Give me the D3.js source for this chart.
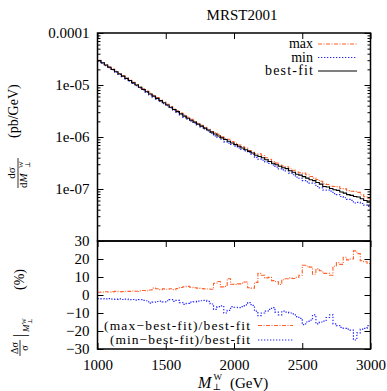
<!DOCTYPE html>
<html><head><meta charset="utf-8">
<script src="https://cdn.jsdelivr.net/npm/d3@7"></script>
<style>
body{margin:0;background:#fff}
text{font-family:"Liberation Serif","DejaVu Serif",serif;fill:#000}
</style>
</head><body>
<svg id="c" width="387" height="391"></svg>
<script>
// ---------- data ----------
const binEdges = d3.range(1000, 3001, 25); // 81 edges, 80 bins of 25 GeV
const bestFit = [
2.94e-5, 2.67e-5, 2.42e-5, 2.19e-5, 1.99e-5, 1.80e-5, 1.63e-5, 1.48e-5, 1.34e-5, 1.22e-5,
1.10e-5, 9.98e-6, 9.06e-6, 8.20e-6, 7.43e-6, 6.73e-6, 6.11e-6, 5.53e-6, 5.01e-6, 4.55e-6,
4.12e-6, 3.73e-6, 3.39e-6, 3.07e-6, 2.78e-6, 2.52e-6, 2.30e-6, 2.10e-6, 1.93e-6, 1.77e-6,
1.62e-6, 1.48e-6, 1.36e-6, 1.24e-6, 1.14e-6, 1.045e-6, 9.64e-7, 8.93e-7, 8.30e-7, 7.69e-7,
7.14e-7, 6.62e-7, 6.15e-7, 5.70e-7, 5.30e-7, 4.91e-7, 4.45e-7, 4.23e-7, 3.98e-7, 3.64e-7,
3.38e-7, 3.13e-7, 2.92e-7, 2.74e-7, 2.56e-7, 2.46e-7, 2.24e-7, 2.10e-7, 1.92e-7, 1.85e-7,
1.73e-7, 1.62e-7, 1.51e-7, 1.45e-7, 1.33e-7, 1.24e-7, 1.12e-7, 1.09e-7, 1.02e-7, 9.66e-8,
9.4e-8, 8.75e-8, 8.32e-8, 7.8e-8, 7.54e-8, 7.18e-8, 7.0e-8, 6.50e-8, 6.0e-8, 5.6e-8];
// (max-best)/best in %
const maxRatio = [
1.5,1.6,1.8,1.7,1.9,2.0,1.8,1.9,2.1,2.0,
2.2,2.1,2.3,2.5,2.4,2.8,3.8,3.5,3.0,3.4,
3.2,3.5,3.0,3.6,4.2,4.6,4.8,4.3,4.0,3.8,
3.6,3.4,3.3,3.2,6.5,7.5,4.5,4.8,9.0,6.0,
5.8,6.2,6.6,7.2,4.0,3.8,7.0,12.0,11.0,9.5,
9.8,8.0,7.5,5.8,8.5,9.0,9.5,9.2,9.8,11.0,
16.5,16.0,15.5,11.5,14.5,13.5,12.0,12.0,11.0,16.0,
18.0,17.0,21.0,19.5,20.0,24.5,23.0,19.0,18.5,17.5];
// (min-best)/best in %
const minRatio = [
-2.0,-2.1,-2.2,-2.0,-2.3,-2.4,-2.2,-2.5,-2.3,-2.6,
-2.5,-2.8,-2.6,-3.0,-3.2,-4.5,-4.0,-3.6,-3.4,-3.8,
-3.2,-2.6,-3.5,-3.0,-4.2,-5.2,-4.6,-4.0,-3.8,-3.4,
-3.2,-3.0,-3.5,-5.0,-8.0,-6.5,-6.0,-10.0,-8.5,-6.5,
-6.8,-7.0,-6.5,-5.5,-4.2,-5.8,-9.0,-11.5,-10.0,-9.0,
-8.0,-7.0,-9.5,-11.0,-9.0,-9.5,-10.0,-10.5,-12.0,-13.0,
-16.5,-15.0,-14.0,-11.0,-16.0,-15.0,-14.5,-12.5,-11.0,-16.0,
-17.0,-18.0,-18.5,-19.0,-19.5,-25.0,-21.0,-19.0,-18.5,-17.0];
const maxVals = bestFit.map((v,i)=>v*(1+maxRatio[i]/100));
const minVals = bestFit.map((v,i)=>v*(1+minRatio[i]/100));
const topTicks = [1e-4,1e-5,1e-6,1e-7];
const topTickLabels = ["0.0001","1e-05","1e-06","1e-07"];
const botTicks = [30,20,10,0,-10,-20,-30];
const xTicks = [1000,1500,2000,2500,3000];

// ---------- layout ----------
const svg = d3.select("#c");
const L=97.5, R=370.5, T=33, M=241, B=349;
const ORANGE="#ff5f28", BLUE="#2323ff";
const x = d3.scaleLinear().domain([1000,3000]).range([L,R]);
const yTop = d3.scaleLog().domain([1e-8,1e-4]).range([M,T]);
const yBot = d3.scaleLinear().domain([-30,30]).range([B,M]);

const defs = svg.append("defs");
defs.append("clipPath").attr("id","ct").append("rect").attr("x",L).attr("y",T).attr("width",R-L).attr("height",M-T);
defs.append("clipPath").attr("id","cb").append("rect").attr("x",L).attr("y",M).attr("width",R-L).attr("height",B-M);

function stepPoints(vals, endVal){
  const pts=[];
  vals.forEach((v,i)=>{pts.push([binEdges[i],v]);pts.push([binEdges[i+1],v]);});
  pts.push([binEdges[binEdges.length-1], endVal]);
  return pts;
}
const lineTop = d3.line().x(d=>x(d[0])).y(d=>yTop(d[1]));
const lineBot = d3.line().x(d=>x(d[0])).y(d=>yBot(d[1]));

// title
svg.append("text").attr("x",242).attr("y",20).attr("text-anchor","middle").attr("font-size",15).text("MRST2001");

// top curves
const gt = svg.append("g").attr("clip-path","url(#ct)");
gt.append("path").attr("d",lineTop(stepPoints(maxVals,1e-9))).attr("fill","none").attr("stroke",ORANGE).attr("stroke-width",1.1).attr("stroke-dasharray","4,1.5,1,1.5");
gt.append("path").attr("d",lineTop(stepPoints(minVals,1e-9))).attr("fill","none").attr("stroke",BLUE).attr("stroke-width",1.2).attr("stroke-dasharray","1.3,1.7");
gt.append("path").attr("d",lineTop(stepPoints(bestFit,1e-9))).attr("fill","none").attr("stroke","#000").attr("stroke-width",1.1);

// bottom curves
const gb = svg.append("g").attr("clip-path","url(#cb)");
gb.append("path").attr("d",lineBot(stepPoints(maxRatio,0))).attr("fill","none").attr("stroke",ORANGE).attr("stroke-width",1.1).attr("stroke-dasharray","4,1.5,1,1.5");
gb.append("path").attr("d",lineBot(stepPoints(minRatio,0))).attr("fill","none").attr("stroke",BLUE).attr("stroke-width",1.2).attr("stroke-dasharray","1.3,1.7");

// axes helper
function styleAxis(g){ g.select(".domain").remove(); g.selectAll("line").attr("stroke","#000").attr("stroke-width",1); g.selectAll("text").attr("font-size",15).attr("font-family","Liberation Serif, DejaVu Serif, serif"); }
const minorTop=[]; [1e-8,1e-7,1e-6,1e-5].forEach(d=>{for(let k=2;k<=9;k++) minorTop.push(d*k);});

// top panel y axes
svg.append("g").attr("transform",`translate(${L},0)`).call(d3.axisLeft(yTop).tickValues(topTicks).tickFormat((d,i)=>topTickLabels[i]).tickSize(-6).tickPadding(8)).call(styleAxis);
svg.append("g").attr("transform",`translate(${L},0)`).call(d3.axisLeft(yTop).tickValues(minorTop).tickFormat("").tickSize(-3)).call(styleAxis);
svg.append("g").attr("transform",`translate(${R},0)`).call(d3.axisRight(yTop).tickValues(topTicks).tickFormat("").tickSize(-6)).call(styleAxis);
svg.append("g").attr("transform",`translate(${R},0)`).call(d3.axisRight(yTop).tickValues(minorTop).tickFormat("").tickSize(-3)).call(styleAxis);
// top panel x ticks
svg.append("g").attr("transform",`translate(0,${T})`).call(d3.axisTop(x).tickValues(xTicks).tickFormat("").tickSize(-6)).call(styleAxis);
svg.append("g").attr("transform",`translate(0,${M})`).call(d3.axisBottom(x).tickValues(xTicks).tickFormat("").tickSize(6)).call(styleAxis);

// bottom panel axes
svg.append("g").attr("transform",`translate(${L},0)`).call(d3.axisLeft(yBot).tickValues(botTicks).tickSize(-6).tickPadding(8)).call(styleAxis);
svg.append("g").attr("transform",`translate(${R},0)`).call(d3.axisRight(yBot).tickValues(botTicks).tickFormat("").tickSize(-6)).call(styleAxis);
svg.append("g").attr("transform",`translate(0,${B})`).call(d3.axisBottom(x).tickValues(xTicks).tickFormat(d3.format("d")).tickSize(-6).tickPadding(10)).call(styleAxis);

// frames
svg.append("rect").attr("x",L).attr("y",T).attr("width",R-L).attr("height",M-T).attr("fill","none").attr("stroke","#000").attr("stroke-width",1.5);
svg.append("rect").attr("x",L).attr("y",M).attr("width",R-L).attr("height",B-M).attr("fill","none").attr("stroke","#000").attr("stroke-width",1.5);

// top legend
const legTop = [["max",ORANGE,"4,1.5,1,1.5",1.1,null],["min",BLUE,"1.3,1.7",1.2,null],["best-fit","#000",null,1.1,48]];
legTop.forEach((d,i)=>{
  const yy = 44 + i*13.5;
  const t = svg.append("text").attr("x",313).attr("y",yy+4.3).attr("text-anchor","end").attr("font-size",14).text(d[0]);
  if(d[4]) t.attr("textLength",d[4]).attr("lengthAdjust","spacing");
  svg.append("line").attr("x1",318).attr("x2",357).attr("y1",yy).attr("y2",yy).attr("stroke",d[1]).attr("stroke-width",d[3]).attr("stroke-dasharray",d[2]);
});
// bottom legend
const legBot = [["(max\u2212best-fit)/best-fit",ORANGE,"4,1.5,1,1.5",1.1],["(min\u2212best-fit)/best-fit",BLUE,"1.3,1.7",1.2]];
legBot.forEach((d,i)=>{
  const yy = 325.5 + i*14.5;
  svg.append("text").attr("x",250).attr("y",yy+4.2).attr("text-anchor","end").attr("font-size",13.5)
    .attr("textLength",i===0?146:140).attr("lengthAdjust","spacing").text(d[0]);
  svg.append("line").attr("x1",258).attr("x2",293).attr("y1",yy).attr("y2",yy).attr("stroke",d[1]).attr("stroke-width",d[3]).attr("stroke-dasharray",d[2]);
});

// x title
const xt = svg.append("g");
xt.append("text").attr("x",198).attr("y",388).attr("font-size",16).attr("font-style","italic").text("M");
xt.append("text").attr("x",213.5).attr("y",379.5).attr("font-size",9).text("W");
xt.append("text").attr("x",212.5).attr("y",390).attr("font-size",9).text("\u22A5");
xt.append("text").attr("x",230).attr("y",388).attr("font-size",15).text("(GeV)");

// top y title
const yt = svg.append("g").attr("transform","translate(18,173) rotate(-90)");
yt.append("line").attr("x1",-15).attr("x2",15).attr("y1",0).attr("y2",0).attr("stroke","#000").attr("stroke-width",0.8);
yt.append("text").attr("x",0).attr("y",-3).attr("text-anchor","middle").attr("font-size",11).text("d\u03C3");
yt.append("text").attr("x",-15).attr("y",9).attr("font-size",11).html('d<tspan font-style="italic">M</tspan>');
yt.append("text").attr("x",5).attr("y",5).attr("font-size",7).text("W");
yt.append("text").attr("x",5).attr("y",12).attr("font-size",7).text("\u22A5");
yt.append("text").attr("x",35).attr("y",0).attr("font-size",14).text("(pb/GeV)");

// bottom y title
const yb = svg.append("g").attr("transform","translate(20,356) rotate(-90)");
yb.append("line").attr("x1",0).attr("x2",16).attr("y1",0).attr("y2",0).attr("stroke","#000").attr("stroke-width",0.8);
yb.append("text").attr("x",8).attr("y",-2).attr("text-anchor","middle").attr("font-size",10).text("\u0394\u03C3");
yb.append("text").attr("x",8).attr("y",8).attr("text-anchor","middle").attr("font-size",10).text("\u03C3");
yb.append("text").attr("x",19).attr("y",5).attr("font-size",16).text("|");
yb.append("text").attr("x",24).attr("y",9).attr("font-size",9).attr("font-style","italic").text("M");
yb.append("text").attr("x",32).attr("y",6).attr("font-size",6).text("W");
yb.append("text").attr("x",32).attr("y",12).attr("font-size",6).text("\u22A5");
yb.append("text").attr("x",66).attr("y",4).attr("font-size",14).text("(%)");
</script>
</body></html>
